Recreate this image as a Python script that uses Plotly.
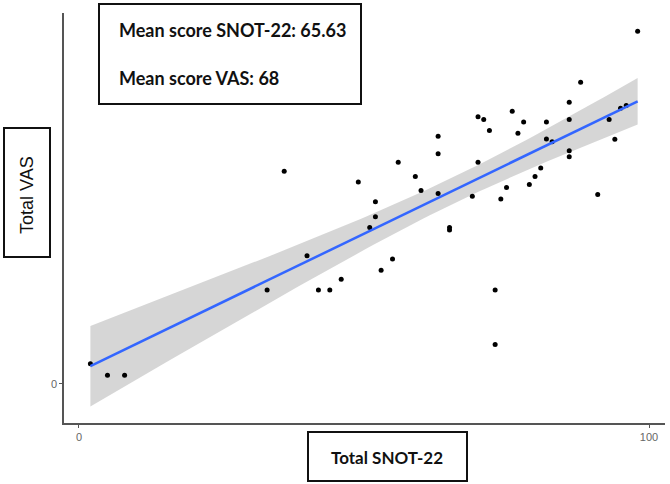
import numpy as np
import plotly.graph_objects as go

snot = [2, 5, 8, 33, 36, 40, 42, 44, 46, 49, 51, 52, 52, 53, 55, 56, 59, 60,
        63, 63, 63, 65, 65, 69, 70, 70, 71, 72, 73, 73, 74, 75, 76, 77, 78, 79,
        80, 81, 82, 82, 83, 86, 86, 86, 86, 88, 91, 93, 94, 95, 96, 98]
vas = [5.7, 2.5, 2.5, 26.6, 60.3, 36.3, 26.6, 26.6, 29.7, 57.2, 44.3, 47.4, 51.6,
       32.2, 35.4, 62.8, 58.8, 54.8, 70.2, 65.2, 54.0, 44.3, 43.6, 53.2, 62.8,
       75.7, 74.9, 71.8, 26.6, 11.2, 52.4, 55.7, 77.3, 71.0, 74.2, 56.5, 58.8,
       61.2, 74.2, 69.4, 68.6, 79.8, 74.9, 66.1, 64.4, 85.5, 53.7, 74.9, 69.3,
       78.1, 78.9, 99.9]
info_lines = ["Mean score SNOT-22: 65.63", "Mean score VAS: 68"]
x_title = "Total SNOT-22"
y_title = "Total VAS"
x_ticks = [0, 100]
y_ticks = [0]

# linear fit with 95% confidence band (as geom_smooth(method="lm"))
x = np.array(snot, float)
y = np.array(vas, float)
n = len(x)
b, a = np.polyfit(x, y, 1)
res = y - (a + b * x)
s = np.sqrt(np.sum(res ** 2) / (n - 2))
sxx = np.sum((x - x.mean()) ** 2)
xs = np.linspace(x.min(), x.max(), 80)
fit = a + b * xs
tval = 2.0086
se = s * np.sqrt(1 / n + (xs - x.mean()) ** 2 / sxx)
lo, hi = fit - tval * se, fit + tval * se

fig = go.Figure()
fig.add_trace(go.Scatter(x=np.concatenate([xs, xs[::-1]]), y=np.concatenate([hi, lo[::-1]]),
                         fill="toself", fillcolor="rgba(153,153,153,0.4)",
                         line=dict(width=0), hoverinfo="skip", showlegend=False))
fig.add_trace(go.Scatter(x=snot, y=vas, mode="markers",
                         marker=dict(color="black", size=5), showlegend=False))
fig.add_trace(go.Scatter(x=xs, y=fit, mode="lines",
                         line=dict(color="#3366FF", width=2.5), showlegend=False))

W, H = 670, 484
L, R, T, B = 64, 665, 13, 423


def px(xp):
    return (xp - L) / (R - L)


def py(yp):
    return (B - yp) / (B - T)


box_font = dict(family="Lato", size=18, color="#111", weight=700)

shapes = [
    dict(type="rect", xref="paper", yref="paper", x0=px(99), x1=px(361), y0=py(104), y1=py(4),
         line=dict(color="#111", width=2), fillcolor="white", layer="above"),
    dict(type="rect", xref="paper", yref="paper", x0=px(4), x1=px(50), y0=py(257), y1=py(128),
         line=dict(color="#111", width=2), fillcolor="white"),
    dict(type="rect", xref="paper", yref="paper", x0=px(308), x1=px(467), y0=py(481), y1=py(432),
         line=dict(color="#111", width=2), fillcolor="white"),
]
annots = [
    dict(xref="paper", yref="paper", x=px(117), y=py(30), text=info_lines[0], showarrow=False,
         xanchor="left", yanchor="middle", font=box_font),
    dict(xref="paper", yref="paper", x=px(117), y=py(78), text=info_lines[1], showarrow=False,
         xanchor="left", yanchor="middle", font=box_font),
    dict(xref="paper", yref="paper", x=px(27), y=py(195), text=y_title, showarrow=False, textangle=-90,
         xanchor="center", yanchor="middle", font=dict(family="Liberation Sans", size=18, color="#111")),
    dict(xref="paper", yref="paper", x=px(387), y=py(457), text=x_title, showarrow=False,
         xanchor="center", yanchor="middle", font=dict(family="Lato", size=17, color="#111", weight=700)),
]

fig.update_layout(
    width=W, height=H, margin=dict(l=L, r=W - R, t=T, b=H - B),
    paper_bgcolor="white", plot_bgcolor="white", shapes=shapes, annotations=annots,
    xaxis=dict(range=[-2.63, 102.8], tickvals=x_ticks, showgrid=False, zeroline=False,
               showline=True, linecolor="#555", linewidth=1.5, ticks="outside", ticklen=3,
               tickcolor="#555", tickfont=dict(family="Liberation Sans", size=11, color="#666")),
    yaxis=dict(range=[-11.05, 105.1], tickvals=y_ticks, showgrid=False, zeroline=False,
               showline=True, linecolor="#555", linewidth=1.5, ticks="outside", ticklen=3,
               tickcolor="#555", tickfont=dict(family="Liberation Sans", size=11, color="#666")),
)
fig.write_html("out.html")
